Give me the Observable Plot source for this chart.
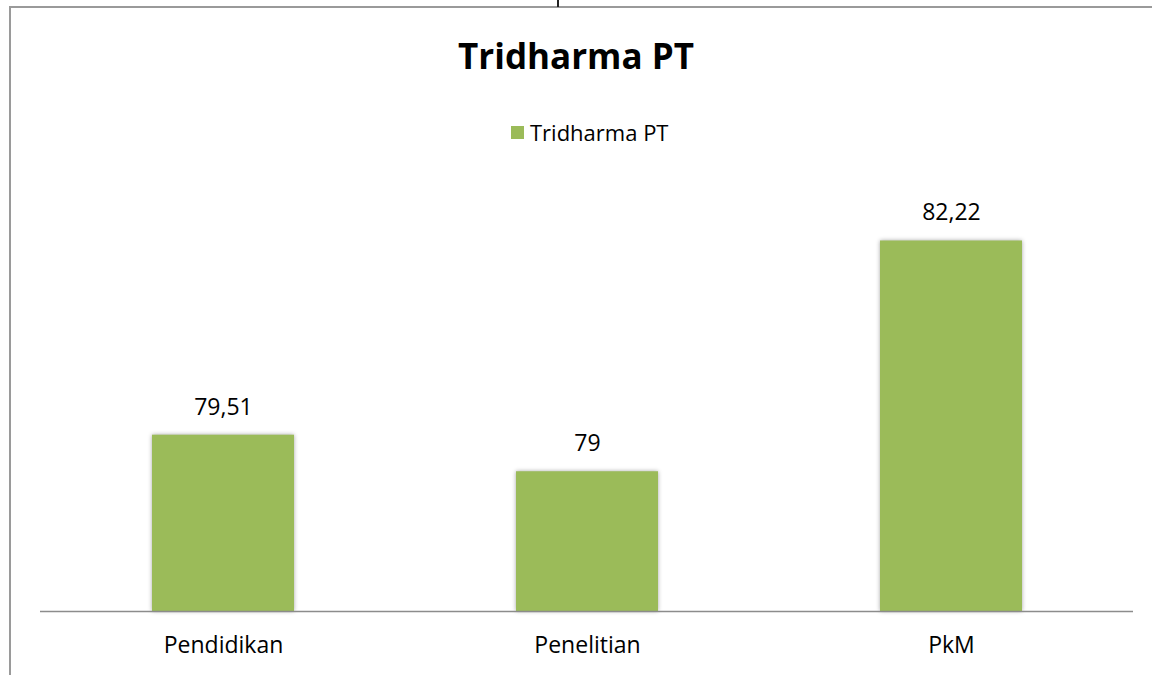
<!DOCTYPE html>
<html>
<head>
<meta charset="utf-8">
<script src="https://cdn.jsdelivr.net/npm/d3@7"></script>
<script src="https://cdn.jsdelivr.net/npm/@observablehq/plot@0.6"></script>
<style>
  html, body { margin: 0; padding: 0; background: #fff; overflow: hidden; width: 1152px; height: 675px; }
  #wrap { position: relative; width: 1152px; height: 675px; font-family: "Open Sans", sans-serif; }
  #frame { position: absolute; left: 9px; top: 6px; width: 1200px; height: 720px; border-left: 2px solid #9a9a9a; border-top: 2px solid #9a9a9a; box-sizing: border-box; }
  #tick { position: absolute; left: 557px; top: 0; width: 2px; height: 7px; background: #222; }
  #title { position: absolute; left: 0; width: 1152px; top: 36px; line-height: 40px; text-align: center; font-weight: 700; font-size: 35px; color: #000; }
  #legend { position: absolute; left: 511px; top: 119px; height: 26px; font-size: 22px; line-height: 26px; color: #000; display: flex; align-items: center; }
  #legend .sw { width: 13px; height: 13px; background: #9BBB59; margin-right: 6px; }
  #chart { position: absolute; left: 0; top: 0; }
  #chart .bars { filter: drop-shadow(0 0 2px rgba(0,0,0,0.35)); }
</style>
</head>
<body>
<div id="wrap">
  <div id="frame"></div>
  <div id="tick"></div>
  <div id="chart"></div>
  <div id="title">Tridharma PT</div>
  <div id="legend"><span class="sw"></span><span>Tridharma PT</span></div>
</div>
<script>
const categories = ["Pendidikan", "Penelitian", "PkM"];
const values = [79.51, 79, 82.22];
const seriesName = "Tridharma PT";
const yMin = 77.05, yMax = 83.05;

const data = categories.map((c, i) => ({cat: c, value: values[i]}));
const fmt = v => String(v).replace(".", ",");

const plot = Plot.plot({
  width: 1152,
  height: 675,
  marginLeft: 40,
  marginRight: 19,
  marginTop: 181,
  marginBottom: 64,
  style: {fontFamily: "'Open Sans', sans-serif", background: "transparent"},
  x: {domain: categories, paddingInner: 0.61, paddingOuter: 0.305, axis: null},
  y: {domain: [yMin, yMax], axis: null},
  marks: [
    Plot.barY(data, {x: "cat", y1: () => yMin, y2: "value", fill: "#9BBB59", className: "bars"}),
    Plot.ruleY([yMin], {stroke: "#8c8c8c", strokeWidth: 1.5}),
    Plot.text(data, {x: "cat", y: "value", text: d => fmt(d.value), dy: -28, lineAnchor: "middle", fontSize: 23, fill: "#000"}),
    Plot.text(data, {x: "cat", y: () => yMin, text: "cat", dy: 34, lineAnchor: "middle", fontSize: 23, fill: "#000"})
  ]
});
document.getElementById("chart").appendChild(plot);
</script>
</body>
</html>
